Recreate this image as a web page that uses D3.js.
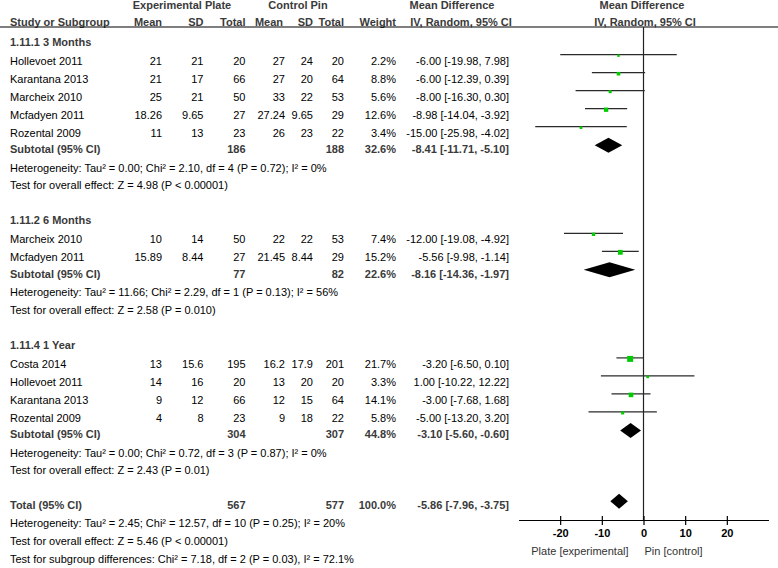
<!DOCTYPE html>
<html>
<head>
<meta charset="utf-8">
<script src="https://cdn.jsdelivr.net/npm/d3@7"></script>
<style>
  body { margin: 0; background: #fff; }
  svg { display: block; font-family: "Liberation Sans", Arial, sans-serif; font-size: 11px; }
  .bold { font-weight: bold; }
  .grey { fill: #3a3a3a; }
</style>
</head>
<body>
<svg id="forest" width="778" height="568"></svg>
<script>
// Subgroups
const groupNames = ["1.11.1 3 Months", "1.11.2 6 Months", "1.11.4 1 Year"];

// Individual studies
const studyNames = ["Hollevoet 2011", "Karantana 2013", "Marcheix 2010", "Mcfadyen 2011", "Rozental 2009",
                    "Marcheix 2010", "Mcfadyen 2011",
                    "Costa 2014", "Hollevoet 2011", "Karantana 2013", "Rozental 2009"];
const studyGroup = [0, 0, 0, 0, 0, 1, 1, 2, 2, 2, 2];
const expMean  = [21, 21, 25, 18.26, 11, 10, 15.89, 13, 14, 9, 4];
const expSD    = [21, 17, 21, 9.65, 13, 14, 8.44, 15.6, 16, 12, 8];
const expTotal = [20, 66, 50, 27, 23, 50, 27, 195, 20, 66, 23];
const ctlMean  = [27, 27, 33, 27.24, 26, 22, 21.45, 16.2, 13, 12, 9];
const ctlSD    = [24, 20, 22, 9.65, 23, 22, 8.44, 17.9, 20, 15, 18];
const ctlTotal = [20, 64, 53, 29, 22, 53, 29, 201, 20, 64, 22];
const weights  = [2.2, 8.8, 5.6, 12.6, 3.4, 7.4, 15.2, 21.7, 3.3, 14.1, 5.8];
const meanDiff = [-6.00, -6.00, -8.00, -8.98, -15.00, -12.00, -5.56, -3.20, 1.00, -3.00, -5.00];
const ciLow    = [-19.98, -12.39, -16.30, -14.04, -25.98, -19.08, -9.98, -6.50, -10.22, -7.68, -13.20];
const ciHigh   = [7.98, 0.39, 0.30, -3.92, -4.02, -4.92, -1.14, 0.10, 12.22, 1.68, 3.20];

// Subtotals per subgroup
const subExpTotal = [186, 77, 304];
const subCtlTotal = [188, 82, 307];
const subWeight   = [32.6, 22.6, 44.8];
const subMD       = [-8.41, -8.16, -3.10];
const subLow      = [-11.71, -14.36, -5.60];
const subHigh     = [-5.10, -1.97, -0.60];
const subHetero = [
  "Heterogeneity: Tau² = 0.00; Chi² = 2.10, df = 4 (P = 0.72); I² = 0%",
  "Heterogeneity: Tau² = 11.66; Chi² = 2.29, df = 1 (P = 0.13); I² = 56%",
  "Heterogeneity: Tau² = 0.00; Chi² = 0.72, df = 3 (P = 0.87); I² = 0%"
];
const subEffect = [
  "Test for overall effect: Z = 4.98 (P < 0.00001)",
  "Test for overall effect: Z = 2.58 (P = 0.010)",
  "Test for overall effect: Z = 2.43 (P = 0.01)"
];

// Overall
const totalExp = 567, totalCtl = 577, totalWeight = 100.0;
const totalMD = -5.86, totalLow = -7.96, totalHigh = -3.75;
const totalNotes = [
  "Heterogeneity: Tau² = 2.45; Chi² = 12.57, df = 10 (P = 0.25); I² = 20%",
  "Test for overall effect: Z = 5.46 (P < 0.00001)",
  "Test for subgroup differences: Chi² = 7.18, df = 2 (P = 0.03), I² = 72.1%"
];

// Axis
const axisTicks = [-20, -10, 0, 10, 20];
const axisLabels = ["Plate [experimental]", "Pin [control]"];

const svg = d3.select("#forest");
const fmt2 = v => v.toFixed(2);  // plain hyphen minus, like the original
const ciText = (m, l, h) => `${fmt2(m)} [${fmt2(l)}, ${fmt2(h)}]`;

// column right edges
const col = { name: 10, eMean: 162, eSD: 203.5, eTot: 245.5, cMean: 285, cSD: 313, cTot: 344, wt: 396, md: 509 };

const x = d3.scaleLinear().domain([-30, 30]).range([518.5, 768.5]);
const sq = d3.scaleLinear().domain([0, 21.7]).range([2, 6]);
const axisY = 520;

function txt(g, xx, y, s, anchor, cls) {
  return g.append("text").attr("x", xx).attr("y", y).attr("dy", "0.35em")
    .attr("text-anchor", anchor || "start").attr("class", cls || "").text(s);
}

// Headers
const head = svg.append("g").attr("class", "bold grey");
[["Experimental Plate", 182], ["Control Pin", 298], ["Mean Difference", 452], ["Mean Difference", 642]]
  .forEach(d => head.append("text").attr("x", d[1]).attr("y", 9).attr("text-anchor", "middle").text(d[0]));
[["Study or Subgroup", col.name, "start"], ["Mean", col.eMean, "end"], ["SD", col.eSD, "end"], ["Total", col.eTot, "end"],
 ["Mean", col.cMean - 2, "end"], ["SD", col.cSD, "end"], ["Total", col.cTot, "end"], ["Weight", col.wt, "end"],
 ["IV, Random, 95% CI", 461, "middle"], ["IV, Random, 95% CI", 645, "middle"]]
  .forEach(d => head.append("text").attr("x", d[1]).attr("y", 26).attr("text-anchor", d[2]).text(d[0]));

svg.append("line").attr("x1", 0).attr("x2", 778).attr("y1", 27).attr("y2", 27)
  .attr("stroke", "#000").attr("stroke-width", 1.2);

// zero line
svg.append("line").attr("x1", x(0)).attr("x2", x(0)).attr("y1", 27).attr("y2", axisY)
  .attr("stroke", "#222").attr("stroke-width", 1.2);

const body = svg.append("g");
const diamond = (m, l, h, y) => `M${x(l)},${y} L${x(m)},${y - 7.5} L${x(h)},${y} L${x(m)},${y + 7.5} Z`;

let y = 41.7;
groupNames.forEach((gname, gi) => {
  if (gi > 0) y += 35;
  txt(body, col.name, y, gname, "start", "bold grey");
  y += 19;
  const idx = studyGroup.map((g, i) => g === gi ? i : -1).filter(i => i >= 0);
  idx.forEach((i, k) => {
    if (k > 0) y += 18;
    txt(body, col.name, y, studyNames[i]);
    txt(body, col.eMean, y, String(expMean[i]), "end");
    txt(body, col.eSD, y, String(expSD[i]), "end");
    txt(body, col.eTot, y, String(expTotal[i]), "end");
    txt(body, col.cMean, y, String(ctlMean[i]), "end");
    txt(body, col.cSD, y, String(ctlSD[i]), "end");
    txt(body, col.cTot, y, String(ctlTotal[i]), "end");
    txt(body, col.wt, y, weights[i].toFixed(1) + "%", "end");
    txt(body, col.md, y, ciText(meanDiff[i], ciLow[i], ciHigh[i]), "end");
    const my = y - 6;
    body.append("line").attr("x1", x(ciLow[i])).attr("x2", x(ciHigh[i])).attr("y1", my).attr("y2", my)
      .attr("stroke", "#2a2a2a").attr("stroke-width", 1.2);
    const s = sq(weights[i]);
    body.append("rect").attr("x", x(meanDiff[i]) - s / 2).attr("y", my + 1 - s / 2)
      .attr("width", s).attr("height", s).attr("fill", "#00cc00");
  });
  y += 16.5;
  txt(body, col.name, y, "Subtotal (95% CI)", "start", "bold grey");
  txt(body, col.eTot, y, String(subExpTotal[gi]), "end", "bold grey");
  txt(body, col.cTot, y, String(subCtlTotal[gi]), "end", "bold grey");
  txt(body, col.wt, y, subWeight[gi].toFixed(1) + "%", "end", "bold grey");
  txt(body, col.md, y, ciText(subMD[gi], subLow[gi], subHigh[gi]), "end", "bold grey");
  body.append("path").attr("d", diamond(subMD[gi], subLow[gi], subHigh[gi], y - 4)).attr("fill", "#000");
  y += 18.7;
  txt(body, col.name, y, subHetero[gi]);
  y += 17.4;
  txt(body, col.name, y, subEffect[gi]);
});

// Total
y += 34.3;
txt(body, col.name, y, "Total (95% CI)", "start", "bold grey");
txt(body, col.eTot, y, String(totalExp), "end", "bold grey");
txt(body, col.cTot, y, String(totalCtl), "end", "bold grey");
txt(body, col.wt, y, totalWeight.toFixed(1) + "%", "end", "bold grey");
txt(body, col.md, y, ciText(totalMD, totalLow, totalHigh), "end", "bold grey");
body.append("path").attr("d", diamond(totalMD, totalLow, totalHigh, y - 3.5)).attr("fill", "#000");
y += 18;
totalNotes.forEach((t, i) => {
  if (i > 0) y += 18;
  txt(body, col.name, y, t);
});

// Axis
const ax = svg.append("g").attr("transform", `translate(0,${axisY})`)
  .call(d3.axisBottom(x).tickValues(axisTicks).tickFormat(d => String(d))
    .tickSize(5).tickSizeOuter(0).tickPadding(4));
ax.select(".domain").attr("stroke", "#000").attr("stroke-width", 1.2);
ax.selectAll(".tick line").attr("y1", -4).attr("y2", 5).attr("stroke", "#000").attr("stroke-width", 1.2);
ax.selectAll(".tick text").attr("font-size", 11).attr("font-family", "Liberation Sans, Arial, sans-serif")
  .attr("fill", "#000").attr("class", "bold");

svg.append("text").attr("x", x(0) - 15).attr("y", 551).attr("dy", "0.35em").attr("text-anchor", "end")
  .attr("fill", "#333").text(axisLabels[0]);
svg.append("text").attr("x", x(0) + 1).attr("y", 551).attr("dy", "0.35em").attr("text-anchor", "start")
  .attr("fill", "#333").text(axisLabels[1]);
</script>
</body>
</html>
